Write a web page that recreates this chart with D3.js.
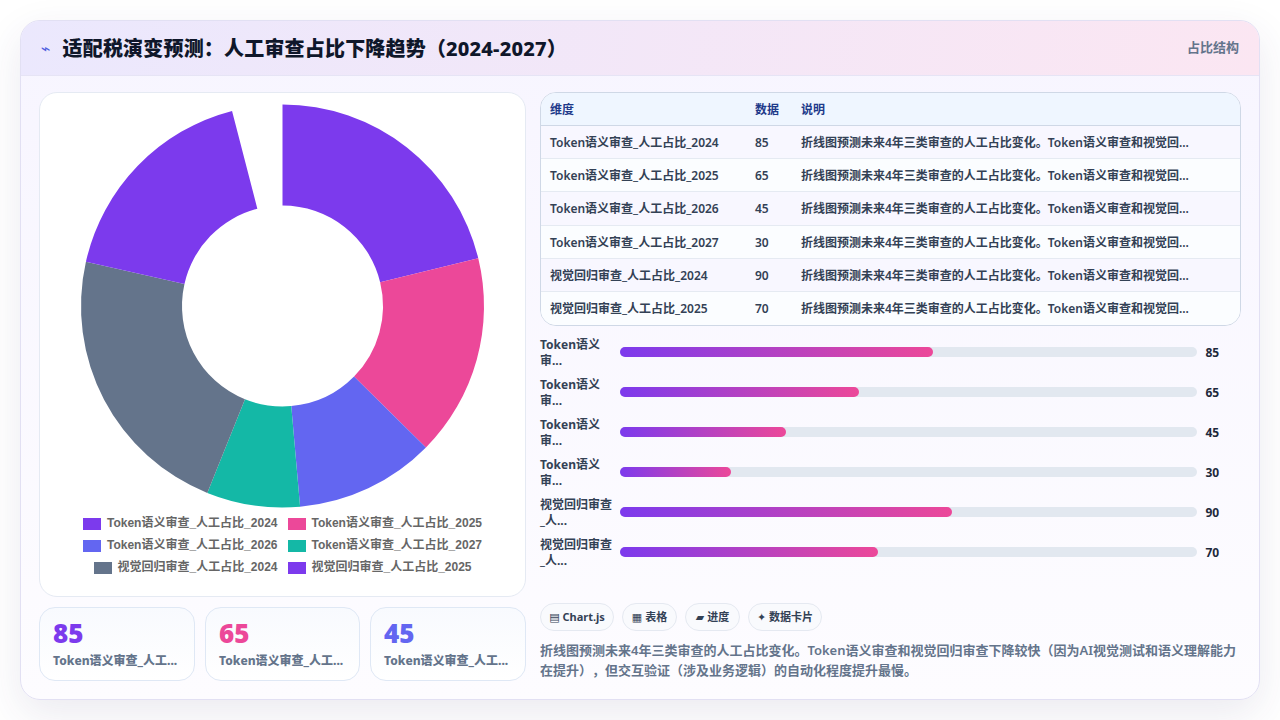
<!DOCTYPE html>
<html lang="zh"><head><meta charset="utf-8">
<script src="https://cdn.jsdelivr.net/npm/d3@7/dist/d3.min.js"></script>
<style>
*{box-sizing:border-box}
html,body{margin:0;width:1280px;height:720px;overflow:hidden;background:#fff;font-family:"Noto Sans","Noto Sans CJK SC",sans-serif;text-spacing-trim:space-all}
.a{position:absolute}
#card{left:20px;top:20px;width:1240px;height:680px;border-radius:20px;border:1px solid #e2e0f3;background:linear-gradient(180deg,#f7f5ff,#fdfcff);box-shadow:0 14px 40px rgba(60,50,110,.10);overflow:hidden}
#head{left:0;top:0;width:1238px;height:55px;background:linear-gradient(100deg,#ebe8fd,#fbe6f2);border-bottom:1px solid #e6e4f5}
.nw{white-space:nowrap}
.panel{background:#fff;border:1px solid #e5eaf3;border-radius:18px}
.kpi{background:linear-gradient(180deg,#f8fafe,#fff);border:1px solid #dfe8f5;border-radius:16px}
.chip{border:1px solid #e5e9f1;border-radius:14px;background:#f9fafd;font-size:11px;font-weight:700;color:#334155;line-height:26px;text-align:center}
.ico{font-family:"DejaVu Sans";font-weight:400}
</style></head><body>
<div id="root"></div>
<script>
const titleText="适配税演变预测：人工审查占比下降趋势（2024-2027）";
const sideLabel="占比结构";
const categories=["Token语义审查_人工占比_2024","Token语义审查_人工占比_2025","Token语义审查_人工占比_2026","Token语义审查_人工占比_2027","视觉回归审查_人工占比_2024","视觉回归审查_人工占比_2025"];
const values=[85,65,45,30,90,70];
const colors=["#7c3aed","#ec4899","#6366f1","#14b8a6","#64748b","#7c3aed"];
const barLabels=["Token语义审...","Token语义审...","Token语义审...","Token语义审...","视觉回归审查_人...","视觉回归审查_人..."];
const tableHead=["维度","数据","说明"];
const shortNote="折线图预测未来4年三类审查的人工占比变化。Token语义审查和视觉回...";
const kpiLabel="Token语义审查_人工...";
const chipIcons=["▤","▦","▰","✦"];
const chipTexts=["Chart.js","表格","进度","数据卡片"];
const noteLines=["折线图预测未来4年三类审查的人工占比变化。Token语义审查和视觉回归审查下降较快（因为AI视觉测试和语义理解能力","在提升），但交互验证（涉及业务逻辑）的自动化程度提升最慢。"];
const sweepDegrees=345.5, barDomainMax=156.6;

const root=d3.select("#root");
function box(parent,cls,x,y,w,h){return parent.append("div").attr("class","a "+cls).style("left",x+"px").style("top",y+"px").style("width",w==null?null:w+"px").style("height",h==null?null:h+"px");}
function txt(parent,s,x,y,size,weight,color){return parent.append("div").attr("class","a nw").style("left",x+"px").style("top",y+"px").style("font-size",size+"px").style("font-weight",weight).style("color",color).style("line-height","1").text(s);}

const card=root.append("div").attr("class","a").attr("id","card");
card.append("div").attr("class","a").attr("id","head");
const page=root.append("div").attr("class","a").style("left",0).style("top",0).style("width","1280px").style("height","720px");
txt(page,"⌁",41,41,16,400,"#4f5fe0").style("font-family",'"DejaVu Sans"');
txt(page,titleText,62.5,39,20,800,"#0f172a").style("letter-spacing","0.19px");
txt(page,sideLabel,1187,41,13,700,"#64748b");

box(page,"panel",39,92,487,505);
const svg=page.append("svg").attr("class","a").style("left",0).style("top",0).attr("width",1280).attr("height",720);
const cx=282.5,cy=306,R=201.5,r=100.5;
const pie=d3.pie().sort(null).startAngle(0).endAngle(sweepDegrees*Math.PI/180);
const arc=d3.arc().innerRadius(r).outerRadius(R);
svg.append("g").attr("transform",`translate(${cx},${cy})`).selectAll("path").data(pie(values)).join("path").attr("d",arc).attr("fill",(d,i)=>colors[i]);
const legendFont='12px "Liberation Sans","Noto Sans CJK SC",sans-serif';
const legendPos=[[83,517],[287.5,517],[83,539],[287.5,539],[93.5,561],[287.5,561]];
const lg=page.selectAll("div.lg").data(categories).join("div").attr("class","a nw lg").style("left",(d,i)=>legendPos[i][0]+"px").style("top",(d,i)=>legendPos[i][1]+"px").style("height","13px");
lg.append("span").attr("class","a").style("left",0).style("top","1px").style("width","18px").style("height","12px").style("background",(d,i)=>colors[i]);
lg.append("span").attr("class","a").style("left","24px").style("top","-1px").style("font",legendFont).style("font-weight",600).style("color","#666").style("line-height","14px").text(d=>d);

const kpiX=[39,205,370],kpiW=[156,155,156];
values.slice(0,3).forEach((v,i)=>{
 box(page,"kpi",kpiX[i],607,kpiW[i],74);
 txt(page,v,kpiX[i]+14,620,26,900,colors[i]);
 txt(page,kpiLabel,kpiX[i]+14,655,12,800,"#64748b");
});

const tb=box(page,"",540,92,701,234).style("border","1px solid #cfd8e6").style("border-radius",'16px').style("overflow","hidden").style("background","#fff");
const colX=[9,214,260];
const th=box(tb,"",0,0,699,33).style("background","#eff6ff").style("border-bottom","1px solid #cfd8e6");
tableHead.forEach((t,i)=>txt(th,t,colX[i],11,12,700,"#1e3a8a"));
const rowPitch=33.2;
categories.forEach((c,i)=>{
 const row=box(tb,"",0,33+i*rowPitch,699,rowPitch).style("background",i%2?"#fbfdff":"#f8f7ff").style("border-bottom",i<5?"1px solid #e5eaf2":null);
 txt(row,c,colX[0],11,12,600,"#334155");
 txt(row,values[i],colX[1],11,12,600,"#334155");
 txt(row,shortNote,colX[2],11,12,600,"#334155");
});

const bx=d3.scaleLinear().domain([0,barDomainMax]).range([0,577]);
const by=d3.scalePoint().domain(d3.range(values.length)).range([352,552]);
categories.forEach((c,i)=>{
 const y=by(i);
 const lab=barLabels[i];
 const split=lab.startsWith("Token")?"Token语义".length:"视觉回归审查".length;
 txt(page,lab.slice(0,split),540,y-13,12,700,"#334155");
 txt(page,lab.slice(split),540,y+3,12,700,"#334155");
 box(page,"",620,y-5,577,10).style("background","#e2e8f0").style("border-radius","5px");
 box(page,"",620,y-5,bx(values[i]),10).style("background","linear-gradient(90deg,#7c3aed,#ec4899)").style("border-radius","5px");
 txt(page,values[i],1205.5,y-5,12,700,"#1e293b");
});

const chipX=[540,622,685,748],chipW=[74,55,55,74];
chipTexts.forEach((c,i)=>{
 const ch=box(page,"chip nw",chipX[i],603,chipW[i],28);
 ch.append("span").attr("class","ico").text(chipIcons[i]);
 ch.append("span").text(" "+c);
});
noteLines.forEach((l,i)=>txt(page,l,540,644+i*20,13,600,"#64748b"));
</script></body></html>
